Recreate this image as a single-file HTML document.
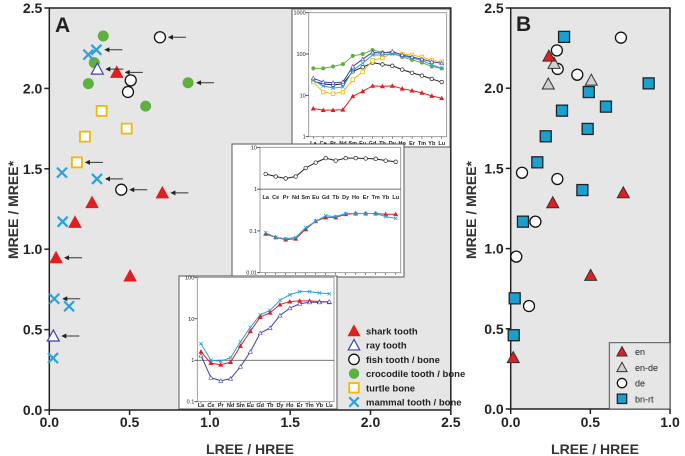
<!DOCTYPE html>
<html><head><meta charset="utf-8"><style>
body{margin:0;background:#fff;}
svg{display:block;font-family:"Liberation Sans",sans-serif;}
</style></head><body>
<svg id="fig" width="685" height="456" viewBox="0 0 685 456">
<g id="panelA"></g>
<g id="panelB"></g>
</svg>
<script>
// ---- Panel A data ----
const sharkX=[0.42,0.704,0.266,0.16,0.042,0.503];
const sharkY=[2.10,1.35,1.29,1.167,0.947,0.833];
const sharkArrow=[1,1,0,0,1,0];
const rayX=[0.299,0.025];
const rayY=[2.12,0.46];
const rayArrow=[1,1];
const fishX=[0.689,0.507,0.49,0.448];
const fishY=[2.318,2.05,1.978,1.37];
const fishArrow=[1,0,0,1];
const crocX=[0.336,0.28,0.243,0.864,0.60];
const crocY=[2.326,2.16,2.03,2.035,1.89];
const crocArrow=[0,0,0,1,0];
const turtleX=[0.326,0.482,0.222,0.172];
const turtleY=[1.86,1.75,1.70,1.54];
const turtleArrow=[0,0,0,1];
const mammalX=[0.293,0.243,0.079,0.297,0.083,0.031,0.123,0.023];
const mammalY=[2.24,2.21,1.476,1.437,1.171,0.692,0.645,0.323];
const mammalArrow=[1,0,0,1,0,1,0,0];
const axTicks=[0,0.5,1.0,1.5,2.0,2.5];
const axTickLabels=["0.0","0.5","1.0","1.5","2.0","2.5"];
const ayTicks=[0,0.5,1.0,1.5,2.0,2.5];
const ayTickLabels=["0.0","0.5","1.0","1.5","2.0","2.5"];
// ---- REE inset data ----
const reeLabels=["La","Ce","Pr","Nd","Sm","Eu","Gd","Tb","Dy","Ho","Er","Tm","Yb","Lu"];
const in1Green=[45,45,50,57,90,100,125,110,105,85,72,62,50,45];
const in1Red=[4.8,4.4,4.4,4.5,9.5,12.5,17,16.5,17,14.5,13,11.5,9.7,8.5];
const in1Black=[22,19,18,19,38,48,62,56,52,42,35,30,25,21];
const in1Orange=[21,12,11,12,24,37,70,80,105,100,95,85,70,65];
const in1Cyan=[23,17,15,16,40,60,95,95,100,90,80,70,55,45];
const in1Blue=[26,21,20,21,50,75,110,105,115,95,85,75,65,60];
const in2Black=[2.3,2.0,1.8,2.0,3.2,4.3,5.5,4.8,5.5,5.5,5.4,5.3,4.8,4.5];
const in2Red=[0.085,0.07,0.062,0.065,0.11,0.17,0.21,0.21,0.25,0.26,0.26,0.26,0.25,0.25];
const in2Cyan=[0.09,0.07,0.065,0.07,0.12,0.17,0.23,0.22,0.26,0.26,0.26,0.26,0.22,0.2];
const in3Cyan=[2.5,1.0,0.95,1.15,2.8,6.2,12.5,16,28,38,45,45,42,40];
const in3Red=[1.6,0.85,0.78,0.9,2.2,5,11,14,22,26,27,27,26,25];
const in3Blue=[1.3,0.38,0.32,0.36,0.7,1.6,4.5,6,12,18,23,25,25,26];
// ---- Panel B data ----
const bnX=[0.335,0.866,0.49,0.598,0.322,0.483,0.22,0.167,0.45,0.077,0.025,0.019];
const bnY=[2.32,2.03,1.976,1.885,1.86,1.746,1.70,1.538,1.365,1.168,0.69,0.46];
const deX=[0.692,0.29,0.295,0.418,0.071,0.293,0.155,0.035,0.115];
const deY=[2.315,2.236,2.12,2.084,1.473,1.434,1.168,0.95,0.642];
const endeX=[0.272,0.236,0.506];
const endeY=[2.155,2.026,2.05];
const enX=[0.24,0.264,0.707,0.502,0.016];
const enY=[2.20,1.286,1.348,0.833,0.32];
const bxTicks=[0,0.5,1.0];
const bxTickLabels=["0.0","0.5","1.0"];

const NS="http://www.w3.org/2000/svg";
function mk(parent,tag,attrs){const e=document.createElementNS(NS,tag);for(const k in attrs)e.setAttribute(k,attrs[k]);parent.appendChild(e);return e;}
function txt(parent,x,y,s,attrs){const e=mk(parent,'text',Object.assign({x:x,y:y},attrs));e.textContent=s;return e;}

const RED="#e02020",BLUE="#4040b0",GREEN="#5fb040",ORANGE="#f5b800",CYAN="#2aa0dc";
function marker(g,type,x,y,s){
  s=s||1;let e;
  if(type==='tri'){e=mk(g,'polygon',{points:`${x},${y-6*s} ${x-6*s},${y+5*s} ${x+6*s},${y+5*s}`,fill:RED,stroke:RED,'stroke-width':1});}
  else if(type==='otri'){e=mk(g,'polygon',{points:`${x},${y-6*s} ${x-6*s},${y+5*s} ${x+6*s},${y+5*s}`,fill:'#fff',stroke:BLUE,'stroke-width':1.2});}
  else if(type==='gtri'){e=mk(g,'polygon',{points:`${x},${y-6*s} ${x-6*s},${y+5*s} ${x+6*s},${y+5*s}`,fill:'#d0d0d0',stroke:'#333','stroke-width':1});}
  else if(type==='rtri'){e=mk(g,'polygon',{points:`${x},${y-6*s} ${x-6*s},${y+5*s} ${x+6*s},${y+5*s}`,fill:RED,stroke:'#333','stroke-width':1});}
  else if(type==='circ'){e=mk(g,'circle',{cx:x,cy:y,r:5.5*s,fill:'#fff',stroke:'#111','stroke-width':1.3});}
  else if(type==='dot'){e=mk(g,'circle',{cx:x,cy:y,r:5.5*s,fill:GREEN});}
  else if(type==='sq'){e=mk(g,'rect',{x:x-5*s,y:y-5*s,width:10*s,height:10*s,fill:'#fff',stroke:ORANGE,'stroke-width':1.8});}
  else if(type==='bsq'){e=mk(g,'rect',{x:x-5.5*s,y:y-5.5*s,width:11*s,height:11*s,fill:'#1aa0d0',stroke:'#222','stroke-width':1.3});}
  else if(type==='x'){e=mk(g,'path',{d:`M${x-5*s},${y-5*s}L${x+5*s},${y+5*s}M${x-5*s},${y+5*s}L${x+5*s},${y-5*s}`,stroke:CYAN,'stroke-width':2.2,fill:'none'});}
  return e;
}

// ---------- Panel A ----------
const A=document.getElementById('panelA');
const aL=49.3,aR=450.8,aT=8,aB=410;
const ax=v=>aL+v*(aR-aL)/2.5, ay=v=>aB-v*(aB-aT)/2.5;
const aBg=mk(A,'rect',{x:aL,y:aT,width:aR-aL,height:aB-aT,fill:'#e6e6e6',stroke:'#222','stroke-width':1.5});

axTicks.forEach((t,i)=>{mk(A,'line',{x1:ax(t),x2:ax(t),y1:aB,y2:aB+5,stroke:'#222','stroke-width':1.5});
  const l=txt(A,ax(t),aB+17,axTickLabels[i],{'font-size':14,'font-weight':'bold','text-anchor':'middle',fill:'#222'});
  });
ayTicks.forEach((t,i)=>{mk(A,'line',{x1:aL-5,x2:aL,y1:ay(t),y2:ay(t),stroke:'#222','stroke-width':1.5});
  const l=txt(A,aL-7,ay(t)+5,ayTickLabels[i],{'font-size':14,'font-weight':'bold','text-anchor':'end',fill:'#222'});
  });
let t=txt(A,250,454,'LREE / HREE',{'font-size':14,'font-weight':'bold','text-anchor':'middle',fill:'#333'});

t=txt(A,0,0,'MREE / MREE*',{'font-size':14,'font-weight':'bold','text-anchor':'middle',fill:'#333',transform:'translate(18,210) rotate(-90)'});

t=txt(A,55,32,'A',{'font-size':21,'font-weight':'bold',fill:'#222'});


function arrow(g,x,y){mk(g,'line',{x1:x+9,x2:x+26,y1:y,y2:y,stroke:'#333','stroke-width':1});
  mk(g,'polygon',{points:`${x+8},${y} ${x+13},${y-2.5} ${x+13},${y+2.5}`,fill:'#222'});}
function seriesA(xs,ys,arr,type,name){xs.forEach((v,i)=>{const px=ax(v),py=ay(ys[i]);
  const m=marker(A,type,px,py);
  if(arr[i])arrow(A,px,py);});}
seriesA(crocX,crocY,crocArrow,'dot','crocodile-point');
seriesA(turtleX,turtleY,turtleArrow,'sq','turtle-point');
seriesA(fishX,fishY,fishArrow,'circ','fish-point');
seriesA(sharkX,sharkY,sharkArrow,'tri','shark-point');
seriesA(rayX,rayY,rayArrow,'otri','ray-point');
seriesA(mammalX,mammalY,mammalArrow,'x','mammal-point');

// legend A
const legA=[['tri','shark tooth'],['otri','ray tooth'],['circ','fish tooth / bone'],['dot','crocodile tooth / bone'],['sq','turtle bone'],['x','mammal tooth / bone']];
legA.forEach((d,i)=>{const y=331+i*14.2;const m=marker(A,d[0],354,y,0.95);
  
  const l=txt(A,366,y+3.5,d[1],{'font-size':9.5,'font-weight':'bold',fill:'#222'});
  });

// inset helper
function inset(box,plot,dmin,dmax,ticks,tickLbl,series,opts){
  const g=mk(A,'g',{});
  mk(g,'rect',{x:box[0],y:box[1],width:box[2],height:box[3],fill:'#fff',stroke:'#555','stroke-width':1});
  const [l,tp,r,b]=plot;
  const lg=Math.log10;
  const iy=v=>b-(lg(v)-lg(dmin))/(lg(dmax)-lg(dmin))*(b-tp);
  const ix=i=>opts.x0+i*(opts.x1-opts.x0)/13;
  mk(g,'rect',{x:l,y:tp,width:r-l,height:b-tp,fill:'#fff',stroke:'#888','stroke-width':0.8});
  ticks.forEach((v,i)=>{mk(g,'line',{x1:l-3,x2:l,y1:iy(v),y2:iy(v),stroke:'#333','stroke-width':0.8});
    txt(g,l-3,iy(v)+2,tickLbl[i],{'font-size':5.5,'text-anchor':'end',fill:'#222'});});
  if(opts.hline)mk(g,'line',{x1:l,x2:r,y1:iy(opts.hline),y2:iy(opts.hline),stroke:'#444','stroke-width':0.8});
  reeLabels.forEach((s,i)=>{mk(g,'line',{x1:ix(i),x2:ix(i),y1:b,y2:b+2,stroke:'#333','stroke-width':0.6});
    if(opts.labels)txt(g,ix(i),opts.labY||b+9,s,{'font-size':5.5,'font-weight':'bold','text-anchor':'middle',fill:'#222'});});
  series.forEach(sr=>{const pts=sr.v.map((v,i)=>ix(i)+','+iy(v)).join(' ');
    const pl=mk(g,'polyline',{points:pts,fill:'none',stroke:sr.c,'stroke-width':1});
    
    sr.v.forEach((v,i)=>{const X=ix(i),Y=iy(v);
      if(sr.m==='o')mk(g,'circle',{cx:X,cy:Y,r:1.8,fill:'#fff',stroke:sr.c,'stroke-width':0.7});
      else if(sr.m==='s')mk(g,'rect',{x:X-1.8,y:Y-1.8,width:3.6,height:3.6,fill:'#fff',stroke:sr.c,'stroke-width':0.8});
      else if(sr.m==='t')mk(g,'polygon',{points:`${X},${Y-2} ${X-2},${Y+1.6} ${X+2},${Y+1.6}`,fill:sr.fill||sr.c,stroke:sr.c,'stroke-width':0.6});
      else if(sr.m==='x')mk(g,'path',{d:`M${X-1.7},${Y-1.7}L${X+1.7},${Y+1.7}M${X-1.7},${Y+1.7}L${X+1.7},${Y-1.7}`,stroke:sr.c,'stroke-width':0.8});
      else mk(g,'circle',{cx:X,cy:Y,r:2,fill:sr.c});});});
  return g;
}
inset([292,9,158,138],[308.7,12.7,446.7,136.7],1,1000,[1,10,100,1000],["1","10","100","1000"],[
 {v:in1Green,c:GREEN,m:'d',n:'inset1-crocodile-line'},
 {v:in1Red,c:RED,m:'t',n:'inset1-shark-line'},
 {v:in1Black,c:'#222',m:'o',n:'inset1-fish-line'},
 {v:in1Orange,c:ORANGE,m:'s',n:'inset1-turtle-line'},
 {v:in1Cyan,c:CYAN,m:'x',n:'inset1-mammal-line'},
 {v:in1Blue,c:BLUE,m:'t',fill:'#fff',n:'inset1-ray-line'}],
 {name:'inset-1',x0:313.3,x1:441.7,labels:true,labY:145});
inset([232,144,172,133],[260,147.3,400.7,272.7],0.01,10,[0.01,0.1,1,10],["0.01","0.1","1","10"],[
 {v:in2Black,c:'#222',m:'o',n:'inset2-fish-line'},
 {v:in2Red,c:RED,m:'t',n:'inset2-shark-line'},
 {v:in2Cyan,c:CYAN,m:'x',n:'inset2-mammal-line'}],
 {name:'inset-2',x0:265.7,x1:395.7,labels:true,labY:199,hline:1});
inset([179,276,158,133],[197.3,277.3,334,401.7],0.1,100,[0.1,1,10,100],["0.1","1","10","100"],[
 {v:in3Cyan,c:CYAN,m:'x',n:'inset3-mammal-line'},
 {v:in3Red,c:RED,m:'t',n:'inset3-shark-line'},
 {v:in3Blue,c:BLUE,m:'t',fill:'#fff',n:'inset3-ray-line'}],
 {name:'inset-3',x0:201,x1:329.3,labels:true,labY:407,hline:1});

// ---------- Panel B ----------
const B=document.getElementById('panelB');
const bL=510.7,bR=670,bT=8,bB=409;
const bx=v=>bL+v*(bR-bL), by=v=>bB-v*(bB-bT)/2.5;
const bBg=mk(B,'rect',{x:bL,y:bT,width:bR-bL,height:bB-bT,fill:'#e6e6e6',stroke:'#222','stroke-width':1.5});

bxTicks.forEach((v,i)=>{mk(B,'line',{x1:bx(v),x2:bx(v),y1:bB,y2:bB+5,stroke:'#222','stroke-width':1.5});
  const l=txt(B,bx(v),bB+18,bxTickLabels[i],{'font-size':14,'font-weight':'bold','text-anchor':'middle',fill:'#222'});
  });
ayTicks.forEach((v,i)=>{mk(B,'line',{x1:bL-5,x2:bL,y1:by(v),y2:by(v),stroke:'#222','stroke-width':1.5});
  const l=txt(B,bL-7,by(v)+5,ayTickLabels[i],{'font-size':14,'font-weight':'bold','text-anchor':'end',fill:'#222'});
  });
t=txt(B,595,454,'LREE / HREE',{'font-size':14,'font-weight':'bold','text-anchor':'middle',fill:'#333'});

t=txt(B,476,210,'MREE / MREE*',{'font-size':14,'font-weight':'bold','text-anchor':'middle',fill:'#333',transform:'rotate(-90 476 210)'});

t=txt(B,516,31,'B',{'font-size':21,'font-weight':'bold',fill:'#222'});

function seriesB(xs,ys,type,name){xs.forEach((v,i)=>{const m=marker(B,type,bx(v),by(ys[i]));
  });}
seriesB(deX,deY,'circ','de-point');
seriesB(endeX,endeY,'gtri','en-de-point');
seriesB(bnX,bnY,'bsq','bn-rt-point');
seriesB(enX,enY,'rtri','en-point');
const lb=mk(B,'rect',{x:609.3,y:342.7,width:60.7,height:66.3,fill:'#e6e6e6',stroke:'#555','stroke-width':1});

[['rtri','en'],['gtri','en-de'],['circ','de'],['bsq','bn-rt']].forEach((d,i)=>{const y=351.7+i*15.7;
  const m=marker(B,d[0],622,y,0.85);
  const l=txt(B,635,y+3.5,d[1],{'font-size':9,fill:'#222'});
  });
</script>
</body></html>
